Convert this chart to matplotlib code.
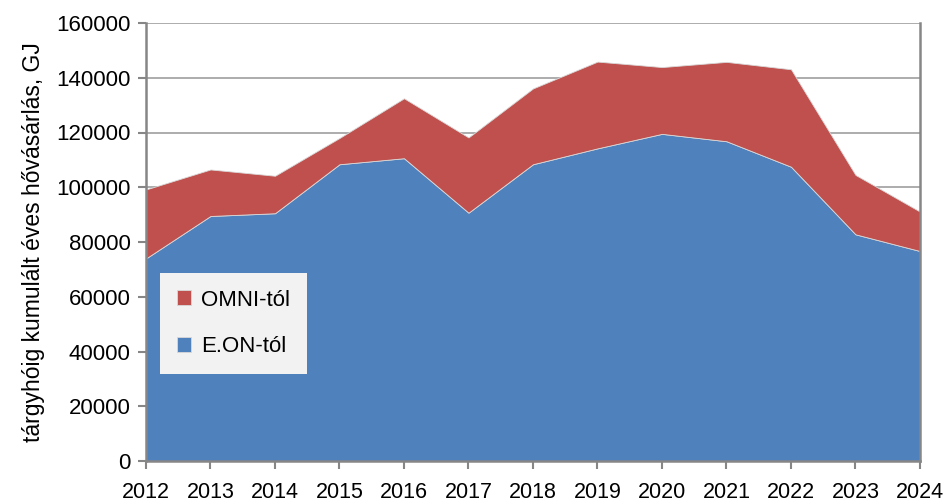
import matplotlib.pyplot as plt
import numpy as np

# data
years = [2012, 2013, 2014, 2015, 2016, 2017, 2018, 2019, 2020, 2021, 2022, 2023, 2024]
eon = [74000, 89500, 90500, 108400, 110600, 90700, 108400, 114200, 119500, 116800, 107500, 82800, 76700]
total = [99200, 106500, 104200, 118000, 132500, 118200, 136100, 145900, 143900, 145800, 143100, 104500, 91100]
omni = [t - e for t, e in zip(total, eon)]

series_labels = ["E.ON-tól", "OMNI-tól"]
colors = ["#4F81BD", "#C0504D"]
ylabel = "tárgyhóig kumulált éves hővásárlás, GJ"

plt.rcParams["font.family"] = ["Liberation Sans", "DejaVu Sans"]

fig = plt.figure(figsize=(9.46, 5.04), dpi=100)
ax = fig.add_axes([146 / 946, 1 - 461 / 504, (920 - 146) / 946, (461 - 23) / 504])

ax.stackplot(years, eon, omni, colors=colors, labels=series_labels,
             edgecolor="#d9d9d9", linewidth=0.6)

ax.set_xlim(years[0], years[-1])
ax.set_ylim(0, 160000)
ax.set_yticks(np.arange(0, 160001, 20000))
ax.set_xticks(years)
ax.yaxis.grid(True, color="#a6a6a6", linewidth=1.3)
ax.set_axisbelow(True)

ax.spines["top"].set_visible(False)
for side in ["left", "bottom", "right"]:
    ax.spines[side].set_color("#868686")
    ax.spines[side].set_linewidth(1.8)
ax.spines["bottom"].set_zorder(5)
ax.spines["left"].set_zorder(5)

ax.tick_params(axis="both", colors="#868686", length=6, width=1.5,
               labelcolor="black")
ax.tick_params(axis="y", labelsize=16, pad=5)
ax.tick_params(axis="x", labelsize=15.5, pad=9)
ax.set_ylabel(ylabel, fontsize=16.5, labelpad=8)

# legend with reversed order (OMNI on top)
handles, labels = ax.get_legend_handles_labels()
leg = ax.legend(handles[::-1], labels[::-1], loc="upper left",
                bbox_to_anchor=(14 / 774, (461 - 273) / 438),
                fontsize=16, frameon=True, fancybox=False,
                handlelength=0.65, handleheight=0.65, handletextpad=0.45,
                labelspacing=1.15, borderpad=0.75, borderaxespad=0)
leg.get_frame().set_facecolor("#f2f2f2")
leg.get_frame().set_edgecolor("none")
leg.get_frame().set_alpha(1)

fig.savefig("out.png", dpi=100)
